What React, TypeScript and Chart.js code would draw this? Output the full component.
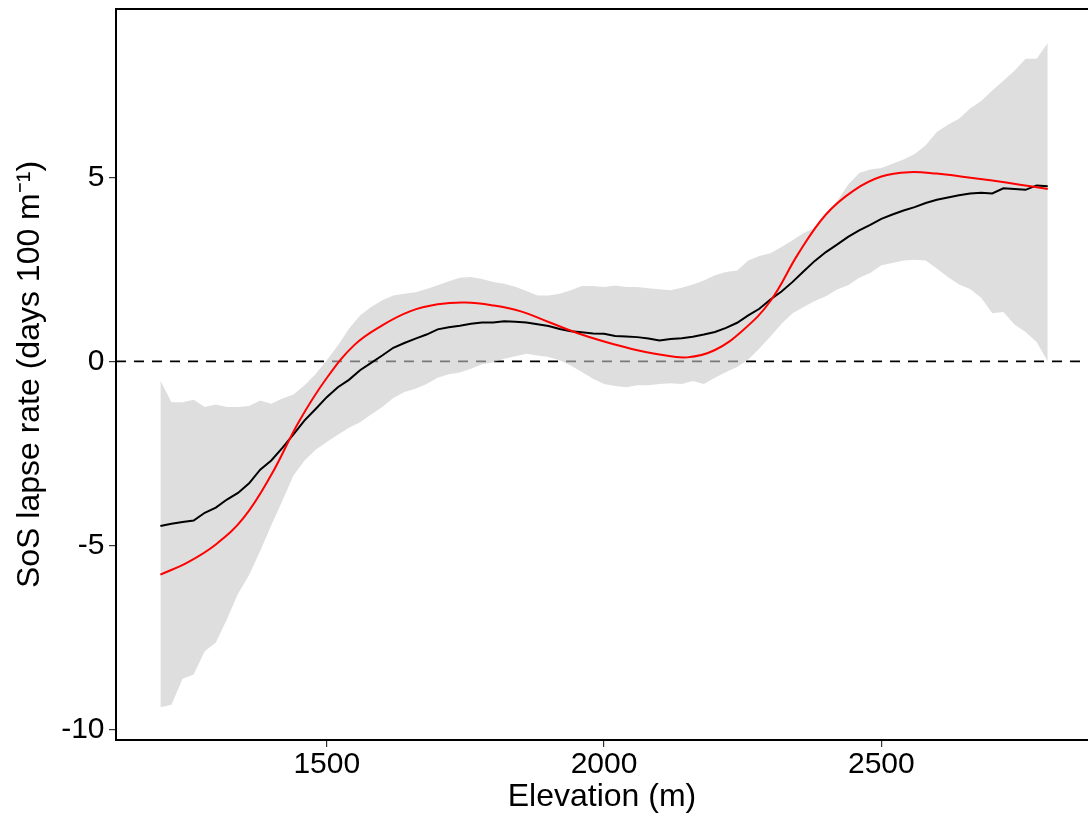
import React, { useEffect, useRef } from "react";
import { Chart, registerables } from "chart.js";

Chart.register(...registerables);

// Elevation grid (m) of the moving-window lapse rate and its confidence band
const ELEVATION = [
  1200, 1220, 1240, 1260, 1280, 1300, 1320, 1340, 1360, 1380,
  1400, 1420, 1440, 1460, 1480, 1500, 1520, 1540, 1560, 1580,
  1600, 1620, 1640, 1660, 1680, 1700, 1720, 1740, 1760, 1780,
  1800, 1820, 1840, 1860, 1880, 1900, 1920, 1940, 1960, 1980,
  2000, 2020, 2040, 2060, 2080, 2100, 2120, 2140, 2160, 2180,
  2200, 2220, 2240, 2260, 2280, 2300, 2320, 2340, 2360, 2380,
  2400, 2420, 2440, 2460, 2480, 2500, 2520, 2540, 2560, 2580,
  2600, 2620, 2640, 2660, 2680, 2700, 2720, 2740, 2760, 2780,
  2800,
];

// SoS lapse rate (days 100 m^-1), black line
const MEAN_RATE = [
  -4.47, -4.41, -4.36, -4.32, -4.11, -3.97, -3.75, -3.57, -3.31, -2.94,
  -2.69, -2.35, -1.98, -1.6, -1.29, -0.97, -0.7, -0.5, -0.24, -0.04,
  0.16, 0.37, 0.5, 0.62, 0.73, 0.87, 0.93, 0.97, 1.02, 1.06,
  1.06, 1.09, 1.08, 1.06, 1.01, 0.96, 0.88, 0.82, 0.79, 0.76,
  0.75, 0.69, 0.68, 0.66, 0.62, 0.57, 0.61, 0.63, 0.67, 0.73,
  0.8, 0.91, 1.05, 1.25, 1.43, 1.68, 1.9, 2.16, 2.45, 2.73,
  2.97, 3.17, 3.38, 3.56, 3.71, 3.87, 3.99, 4.1, 4.19, 4.3,
  4.39, 4.45, 4.51, 4.56, 4.58, 4.56, 4.7, 4.68, 4.66, 4.78,
  4.76,
];

// Lower bound of the grey band
const LOWER_CI = [
  -9.39, -9.32, -8.62, -8.5, -7.87, -7.63, -7.0, -6.31, -5.8, -5.15,
  -4.45, -3.78, -3.1, -2.69, -2.4, -2.19, -1.99, -1.8, -1.65, -1.44,
  -1.24, -0.99, -0.83, -0.74, -0.61, -0.44, -0.35, -0.3, -0.2, -0.08,
  -0.02, 0.07, 0.14, 0.21, 0.16, 0.12, 0.03, -0.11, -0.29, -0.47,
  -0.61, -0.67, -0.7, -0.65, -0.65, -0.61, -0.59, -0.61, -0.53, -0.61,
  -0.44, -0.29, -0.15, 0.05, 0.35, 0.68, 1.02, 1.31, 1.48, 1.64,
  1.77, 1.95, 2.07, 2.27, 2.4, 2.61, 2.67, 2.74, 2.76, 2.74,
  2.52, 2.29, 2.09, 1.97, 1.73, 1.31, 1.34, 1.0, 0.8, 0.53,
  0.0,
];

// Upper bound of the grey band
const UPPER_CI = [
  -0.52, -1.11, -1.11, -1.04, -1.24, -1.17, -1.24, -1.24, -1.21, -1.06,
  -1.15, -1.01, -0.9, -0.65, -0.34, 0.03, 0.43, 0.89, 1.25, 1.48,
  1.66, 1.79, 1.84, 1.88, 1.97, 2.07, 2.18, 2.27, 2.29, 2.24,
  2.16, 2.11, 2.03, 1.91, 1.79, 1.79, 1.84, 1.93, 2.05, 2.05,
  2.02, 2.06, 2.02, 2.02, 1.99, 1.96, 1.93, 2.0, 2.09, 2.2,
  2.34, 2.43, 2.47, 2.74, 2.86, 2.94, 3.11, 3.29, 3.49, 3.63,
  3.95, 4.35, 4.8, 5.12, 5.21, 5.25, 5.37, 5.48, 5.63, 5.87,
  6.23, 6.43, 6.59, 6.87, 7.07, 7.36, 7.62, 7.89, 8.22, 8.22,
  8.65,
];

// Smooth fitted curve (red)
const FIT_ELEVATION = [
  1200, 1250, 1300, 1350, 1400, 1450, 1500, 1550, 1600, 1650, 1700,
  1750, 1800, 1850, 1900, 1950, 2000, 2050, 2100, 2150, 2200, 2250,
  2300, 2350, 2400, 2450, 2500, 2550, 2600, 2650, 2700, 2750, 2800,
];
const FIT_RATE = [
  -5.79, -5.45, -4.97, -4.25, -3.08, -1.63, -0.45, 0.45, 0.98, 1.36, 1.55,
  1.6, 1.52, 1.36, 1.07, 0.78, 0.54, 0.34, 0.19, 0.11, 0.31, 0.84,
  1.64, 2.92, 3.99, 4.64, 5.02, 5.14, 5.1, 5.01, 4.91, 4.8, 4.68,
];

// Reference line at zero
const ZERO_X = [1120, 2880];
const ZERO_Y = [0, 0];

const X_TICKS = [1500, 2000, 2500];
const Y_TICKS = [-10, -5, 0, 5];
const X_MIN = 1120;
const X_MAX = 2872.6;
const Y_MIN = -10.28;
const Y_MAX = 9.57;

const FONT = '"Liberation Sans", Arial, Helvetica, sans-serif';

const pts = (xs: number[], ys: number[]) => xs.map((x, i) => ({ x, y: ys[i] }));

export default function App() {
  const ref = useRef<HTMLCanvasElement | null>(null);

  useEffect(() => {
    if (!ref.current) return;
    const topBorder = {
      id: "topBorder",
      afterDraw(chart: any) {
        const { ctx, chartArea } = chart;
        ctx.save();
        ctx.strokeStyle = "#000";
        ctx.lineWidth = 2;
        ctx.beginPath();
        ctx.moveTo(chartArea.left - 1, chartArea.top);
        ctx.lineTo(chartArea.right, chartArea.top);
        ctx.stroke();
        ctx.restore();
      },
    };

    const chart = new Chart(ref.current, {
      type: "line",
      data: {
        datasets: [
          {
            label: "zero",
            data: pts(ZERO_X, ZERO_Y),
            borderColor: "#000",
            borderWidth: 1.8,
            borderDash: [10, 8],
            pointRadius: 0,
            fill: false,
            order: 10,
          },
          {
            label: "lower",
            data: pts(ELEVATION, LOWER_CI),
            borderColor: "rgba(0,0,0,0)",
            borderWidth: 0,
            pointRadius: 0,
            fill: false,
            tension: 0,
            order: 5,
          },
          {
            label: "upper",
            data: pts(ELEVATION, UPPER_CI),
            borderColor: "rgba(0,0,0,0)",
            borderWidth: 0,
            pointRadius: 0,
            fill: "-1",
            backgroundColor: "rgba(200,200,200,0.6)",
            tension: 0,
            order: 4,
          },
          {
            label: "mean",
            data: pts(ELEVATION, MEAN_RATE),
            borderColor: "#000",
            borderWidth: 2,
            pointRadius: 0,
            fill: false,
            tension: 0,
            order: 2,
          },
          {
            label: "fit",
            data: pts(FIT_ELEVATION, FIT_RATE),
            borderColor: "#ff0000",
            borderWidth: 2,
            pointRadius: 0,
            fill: false,
            tension: 0.4,
            order: 1,
          },
        ],
      },
      options: {
        animation: false,
        responsive: false,
        maintainAspectRatio: false,
        devicePixelRatio: 1,
        layout: { padding: { top: 9, left: 0, right: 0, bottom: 0 } },
        plugins: {
          legend: { display: false },
          tooltip: { enabled: false },
        },
        scales: {
          x: {
            type: "linear",
            position: "bottom",
            min: X_MIN,
            max: X_MAX,
            afterBuildTicks: (s: any) => {
              s.ticks = X_TICKS.map((v) => ({ value: v }));
            },
            afterFit: (s: any) => {
              s.height = 79;
              s.paddingLeft = 0;
              s.paddingRight = 0;
              s.paddingTop = 0;
              s.paddingBottom = 0;
            },
            grid: {
              drawOnChartArea: false,
              drawTicks: true,
              tickLength: 7,
              color: "#333",
              lineWidth: 1.2,
            },
            border: { display: true, color: "#000", width: 2 },
            ticks: {
              color: "#000",
              padding: 2.6,
              autoSkip: false,
              maxRotation: 0,
              minRotation: 0,
              font: { family: FONT, size: 30, lineHeight: 1 },
              callback: (v: any) => String(v),
            },
            title: {
              display: true,
              text: "Elevation (m)",
              color: "#000",
              font: { family: FONT, size: 32, lineHeight: 1 },
              padding: { top: 0, bottom: 6 },
            },
          },
          y: {
            type: "linear",
            position: "left",
            min: Y_MIN,
            max: Y_MAX,
            afterBuildTicks: (s: any) => {
              s.ticks = Y_TICKS.map((v) => ({ value: v }));
            },
            afterFit: (s: any) => {
              s.width = 116;
              s.paddingLeft = 0;
              s.paddingRight = 0;
              s.paddingTop = 0;
              s.paddingBottom = 0;
            },
            grid: {
              drawOnChartArea: false,
              drawTicks: true,
              tickLength: 7,
              color: "#333",
              lineWidth: 1.2,
            },
            border: { display: true, color: "#000", width: 2 },
            ticks: {
              color: "#000",
              padding: 4.5,
              autoSkip: false,
              font: { family: FONT, size: 30, lineHeight: 1 },
              callback: (v: any) => String(v),
            },
            title: {
              display: true,
              text: "SoS lapse rate (days 100 m\u207B\u00B9)",
              color: "#000",
              font: { family: FONT, size: 32, lineHeight: 1 },
              padding: { top: 14.6, bottom: 0 },
            },
          },
        },
      },
      plugins: [topBorder],
    } as any);

    return () => chart.destroy();
  }, []);

  return (
    <div
      style={{
        position: "fixed",
        left: 0,
        top: 0,
        width: 1088,
        height: 819,
        background: "#fff",
      }}
    >
      <canvas
        ref={ref}
        width={1088}
        height={819}
        style={{ display: "block", width: 1088, height: 819 }}
      />
    </div>
  );
}
